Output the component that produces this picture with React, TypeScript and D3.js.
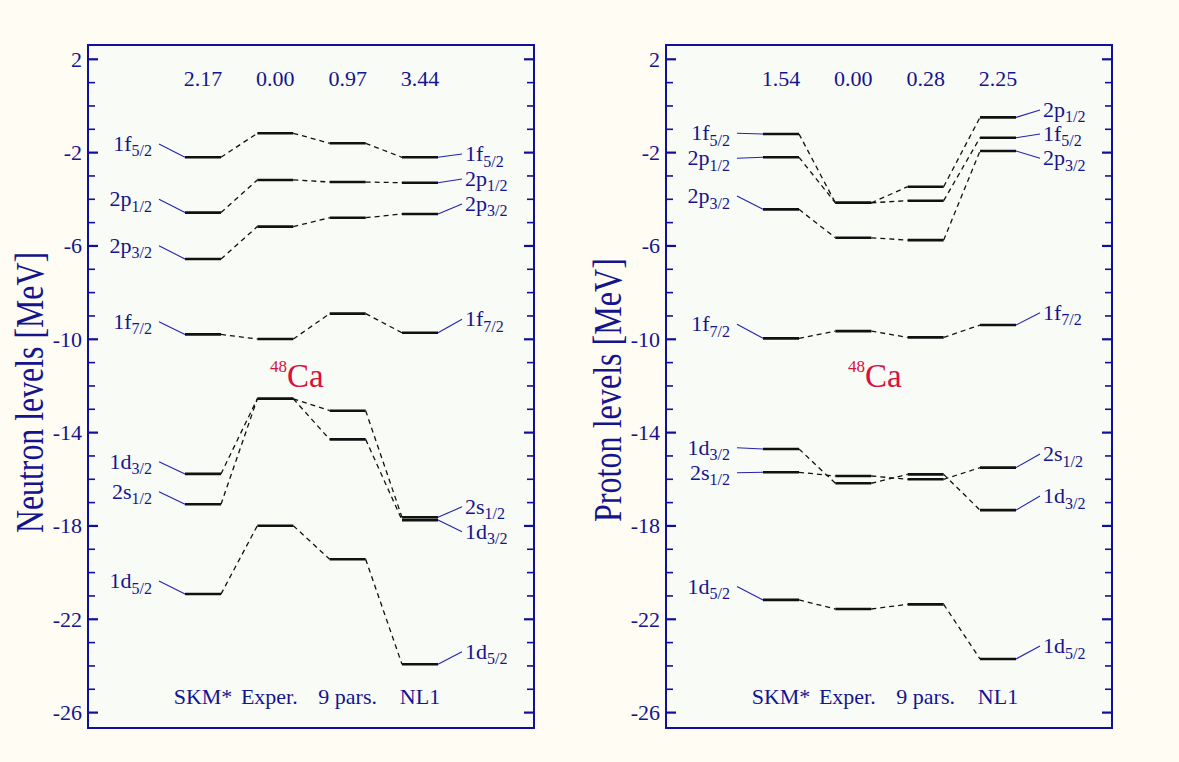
import React from "react";
import * as d3 from "d3";

// ---------- data ----------
const categories = ["SKM*", "Exper.", "9 pars.", "NL1"];
const neutronGaps = ["2.17", "0.00", "0.97", "3.44"];
const protonGaps = ["1.54", "0.00", "0.28", "2.25"];

const neutronOrbMain = ["1f", "2p", "2p", "1f", "1d", "2s", "1d"];
const neutronOrbSub = ["5/2", "1/2", "3/2", "7/2", "3/2", "1/2", "5/2"];
// energies (MeV) for SKM*, Exper., 9 pars., NL1
const neutronLevels = [
  [-2.2, -1.17, -1.6, -2.2],
  [-4.57, -3.17, -3.26, -3.29],
  [-6.56, -5.17, -4.79, -4.63],
  [-9.79, -9.99, -8.9, -9.72],
  [-15.77, -12.55, -14.29, -17.75],
  [-17.07, -12.55, -13.06, -17.63],
  [-20.92, -17.99, -19.43, -23.93],
];
// energies at which the orbital labels sit (left, right)
const neutronLabelLeftE = [-1.63, -4.0, -5.99, -9.25, -15.25, -16.53, -20.36];
const neutronLabelRightE = [-2.06, -3.13, -4.2, -9.14, -18.25, -17.18, -23.39];

const protonOrbMain = ["1f", "2p", "2p", "1f", "1d", "2s", "1d"];
const protonOrbSub = ["5/2", "1/2", "3/2", "7/2", "3/2", "1/2", "5/2"];
const protonLevels = [
  [-1.2, -4.15, -4.06, -1.36],
  [-2.2, -4.15, -3.46, -0.49],
  [-4.43, -5.65, -5.75, -1.93],
  [-9.96, -9.65, -9.92, -9.39],
  [-14.7, -16.17, -15.79, -17.32],
  [-15.7, -15.86, -16.0, -15.5],
  [-21.17, -21.56, -21.36, -23.7],
];
const protonLabelLeftE = [-1.17, -2.24, -3.86, -9.36, -14.65, -15.72, -20.6];
const protonLabelRightE = [-1.2, -0.17, -2.24, -8.86, -16.72, -14.92, -23.15];

const yTicks = d3.range(-26, 3, 1);
const yTickLabels = [2, -2, -6, -10, -14, -18, -22, -26];

// ---------- style ----------
const BG = "#fffcf3";
const PLOT_BG = "#f8fbf6";
const FRAME = "#10109a";
const TEXT = "#14148e";
const LINKBLUE = "#2323b0";
const RED = "#d8103e";
const FONT = "'Liberation Serif', 'DejaVu Serif', serif";

const W = 1179;
const H = 762;
const FRAME_TOP = 45;
const FRAME_BOTTOM = 728;
const PANEL_W = 446;
const FS = 22;

const y = d3.scaleLinear().domain([-26, 2]).range([712.6, 59.3]);

type PanelProps = {
  left: number;
  title: string;
  titleLen: number;
  titleY: number;
  gaps: string[];
  levels: number[][];
  main: string[];
  sub: string[];
  labelL: number[];
  labelR: number[];
};

function Panel({ left, title, titleLen, titleY, gaps, levels, main, sub, labelL, labelR }: PanelProps) {
  const x = d3.scalePoint<string>().domain(categories).range([left + 115, left + 332]);
  const half = 18;
  const right = left + PANEL_W;
  return (
    <g>
      <rect x={left} y={FRAME_TOP} width={PANEL_W} height={FRAME_BOTTOM - FRAME_TOP} fill={PLOT_BG} stroke="none" />
      {/* ticks */}
      {yTicks.map((t) => {
        const major = yTickLabels.includes(t);
        const len = major ? 10 : 7;
        const yy = y(t);
        return (
          <g key={t}>
            <line x1={left} x2={left + len} y1={yy} y2={yy} stroke={FRAME} strokeWidth={major ? 2.2 : 1.6} />
            <line x1={right - len} x2={right} y1={yy} y2={yy} stroke={FRAME} strokeWidth={major ? 2.2 : 1.6} />
          </g>
        );
      })}
      {yTickLabels.map((t) => (
        <text key={t} x={left - 6} y={y(t) + 7.5} textAnchor="end" fontSize={FS} fill={TEXT} fontFamily={FONT}>
          {t}
        </text>
      ))}
      <rect x={left} y={FRAME_TOP} width={PANEL_W} height={FRAME_BOTTOM - FRAME_TOP} fill="none" stroke={FRAME} strokeWidth={2} />
      {/* axis title */}
      <text
        transform={`translate(${left - 45},${titleY}) rotate(-90)`}
        textAnchor="middle"
        fontSize={40}
        fill={TEXT}
        fontFamily={FONT}
        textLength={titleLen}
        lengthAdjust="spacingAndGlyphs"
      >
        {title}
      </text>
      {/* gaps */}
      {gaps.map((g, i) => (
        <text key={i} x={x(categories[i])} y={86} textAnchor="middle" fontSize={FS} fill={TEXT} fontFamily={FONT}>
          {g}
        </text>
      ))}
      {/* bottom labels */}
      {categories.map((c, i) => (
        <text key={c} x={(x(c) as number) + (i === 1 ? -6 : 0)} y={704} textAnchor="middle" fontSize={FS} fill={TEXT} fontFamily={FONT}>
          {c}
        </text>
      ))}
      {/* nucleus */}
      <text x={left + 182} y={386.7} fill={RED} fontFamily={FONT}>
        <tspan fontSize={17} dy={-15}>48</tspan>
        <tspan fontSize={33} dy={15}>Ca</tspan>
      </text>
      {/* levels */}
      {levels.map((row, k) => {
        const x0 = (x(categories[0]) as number) - half;
        const x3 = (x(categories[3]) as number) + half;
        const lyL = y(labelL[k]);
        const lyR = y(labelR[k]);
        return (
          <g key={k}>
            {row.map((e, i) => {
              const cx = x(categories[i]) as number;
              return <line key={i} x1={cx - half} x2={cx + half} y1={y(e)} y2={y(e)} stroke="#111" strokeWidth={2.6} />;
            })}
            {row.slice(0, -1).map((e, i) => {
              const a = (x(categories[i]) as number) + half;
              const b = (x(categories[i + 1]) as number) - half;
              return (
                <line key={"d" + i} x1={a} x2={b} y1={y(e)} y2={y(row[i + 1])} stroke="#111" strokeWidth={1.3} strokeDasharray="5,4" />
              );
            })}
            <line x1={x0 - 26} y1={lyL} x2={x0} y2={y(row[0])} stroke={LINKBLUE} strokeWidth={1.1} />
            <line x1={x3} y1={y(row[3])} x2={x3 + 24} y2={lyR} stroke={LINKBLUE} strokeWidth={1.1} />
            <text x={x0 - 33} y={lyL + 7} textAnchor="end" fill={TEXT} fontFamily={FONT} fontSize={FS}>
              <tspan>{main[k]}</tspan>
              <tspan fontSize={16} dy={5.5}>{sub[k]}</tspan>
            </text>
            <text x={x3 + 27} y={lyR + 7} textAnchor="start" fill={TEXT} fontFamily={FONT} fontSize={FS}>
              <tspan>{main[k]}</tspan>
              <tspan fontSize={16} dy={5.5}>{sub[k]}</tspan>
            </text>
          </g>
        );
      })}
    </g>
  );
}

export default function App() {
  return (
    <svg
      width={W}
      height={H}
      style={{ position: "absolute", left: 0, top: 0, display: "block" }}
      xmlns="http://www.w3.org/2000/svg"
    >
      <rect x={0} y={0} width={W} height={H} fill={BG} />
      <Panel
        left={88}
        title="Neutron levels [MeV]"
        titleLen={281}
        titleY={392.5}
        gaps={neutronGaps}
        levels={neutronLevels}
        main={neutronOrbMain}
        sub={neutronOrbSub}
        labelL={neutronLabelLeftE}
        labelR={neutronLabelRightE}
      />
      <Panel
        left={666}
        title="Proton levels [MeV]"
        titleLen={264}
        titleY={390}
        gaps={protonGaps}
        levels={protonLevels}
        main={protonOrbMain}
        sub={protonOrbSub}
        labelL={protonLabelLeftE}
        labelR={protonLabelRightE}
      />
    </svg>
  );
}
